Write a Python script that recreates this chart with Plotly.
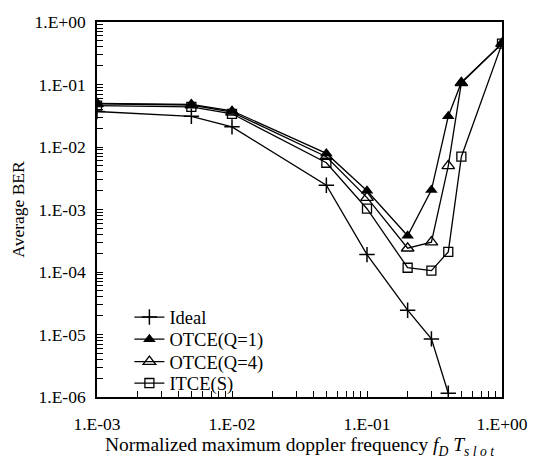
import plotly.graph_objects as go

x_vals = [0.001, 0.005, 0.01, 0.05, 0.1, 0.2, 0.3, 0.4, 0.5, 1.0]
ideal_x = [0.001, 0.005, 0.01, 0.05, 0.1, 0.2, 0.3, 0.4]
ideal = [0.037, 0.031, 0.021, 2.45e-3, 1.9e-4, 2.45e-5, 8.5e-6, 1.15e-6]
otce_q1 = [0.050, 0.048, 0.038, 7.9e-3, 2.0e-3, 3.8e-4, 2.05e-3, 0.031, 0.108, 0.455]
otce_q4 = [0.049, 0.047, 0.036, 7.0e-3, 1.55e-3, 2.4e-4, 3.0e-4, 5.0e-3, 0.106, 0.45]
itce_s = [0.046, 0.044, 0.034, 5.6e-3, 1.03e-3, 1.17e-4, 1.05e-4, 2.1e-4, 7.0e-3, 0.45]

x_tickvals = [1e-3, 1e-2, 1e-1, 1e0]
x_ticktext = ["1.E-03", "1.E-02", "1.E-01", "1.E+00"]
y_tickvals = [1e-6, 1e-5, 1e-4, 1e-3, 1e-2, 1e-1, 1e0]
y_ticktext = ["1.E-06", "1.E-05", "1.E-04", "1.E-03", "1.E-02", "1.E-01", "1.E+00"]


def with_minor(vals, texts):
    """Major ticks with labels plus unlabeled minor ticks at 2..9 x 10^k."""
    tv, tt = list(vals), list(texts)
    for v in vals[:-1]:
        for m in range(2, 10):
            tv.append(v * m)
            tt.append("")
    order = sorted(range(len(tv)), key=lambda i: tv[i])
    return [tv[i] for i in order], [tt[i] for i in order]


xtv, xtt = with_minor(x_tickvals, x_ticktext)
ytv, ytt = with_minor(y_tickvals, y_ticktext)

FONT = "Liberation Serif"
TICK = 17.5
line = dict(color="black", width=1.3)

fig = go.Figure()
fig.add_trace(go.Scatter(x=ideal_x, y=ideal, name="Ideal", mode="lines+markers",
                         line=line, legend="legend",
                         marker=dict(symbol="cross-thin", size=11, color="black",
                                     line=dict(color="black", width=1.5))))
fig.add_trace(go.Scatter(x=x_vals, y=otce_q1, name="OTCE(Q=1)", mode="lines+markers",
                         line=line, legend="legend2",
                         marker=dict(symbol="triangle-up", size=11, color="black")))
fig.add_trace(go.Scatter(x=x_vals, y=otce_q4, name="OTCE(Q=4)", mode="lines+markers",
                         line=line, legend="legend3",
                         marker=dict(symbol="triangle-up-open", size=11, color="black",
                                     line=dict(color="black", width=1.3))))
fig.add_trace(go.Scatter(x=x_vals, y=itce_s, name="ITCE(S)", mode="lines+markers",
                         line=line, legend="legend4",
                         marker=dict(symbol="square-open", size=9, color="black",
                                     line=dict(color="black", width=1.3))))


def leg(ypos):
    return dict(x=0.08, y=ypos, xanchor="left", yanchor="middle",
                bgcolor="rgba(0,0,0,0)", borderwidth=0,
                font=dict(family=FONT, size=18.5, color="black"))


fig.update_layout(
    width=540, height=464,
    margin=dict(l=97, r=30, t=18, b=60),
    paper_bgcolor="white", plot_bgcolor="white",
    font=dict(family=FONT, size=TICK, color="black"),
    showlegend=True,
    legend=leg(0.212), legend2=leg(0.153), legend3=leg(0.093), legend4=leg(0.036),
    xaxis=dict(type="log", range=[-3, 0], tickmode="array",
               tickvals=xtv, ticktext=xtt, layer="above traces",
               ticks="inside", ticklen=6, tickcolor="black", tickwidth=1.2,
               showline=True, linecolor="black", linewidth=1.6, mirror=True,
               gridcolor="rgba(0,0,0,0)",
               ticklabelstandoff=10,
               tickfont=dict(family=FONT, size=TICK),
               title=dict(text="Normalized maximum doppler frequency <i>f</i><sub><i>D</i></sub> <i>T</i><sub><i>s l o t</i></sub>",
                          font=dict(family=FONT, size=19.5), standoff=5)),
    yaxis=dict(type="log", range=[-6, 0], tickmode="array",
               tickvals=ytv, ticktext=ytt, layer="above traces",
               ticks="inside", ticklen=6, tickcolor="black", tickwidth=1.2,
               showline=True, linecolor="black", linewidth=1.6, mirror=True,
               gridcolor="rgba(0,0,0,0)",
               ticklabelstandoff=6,
               tickfont=dict(family=FONT, size=TICK),
               title=dict(text="Average BER", font=dict(family=FONT, size=17.5), standoff=5)),
)

fig.write_html("out.html")
